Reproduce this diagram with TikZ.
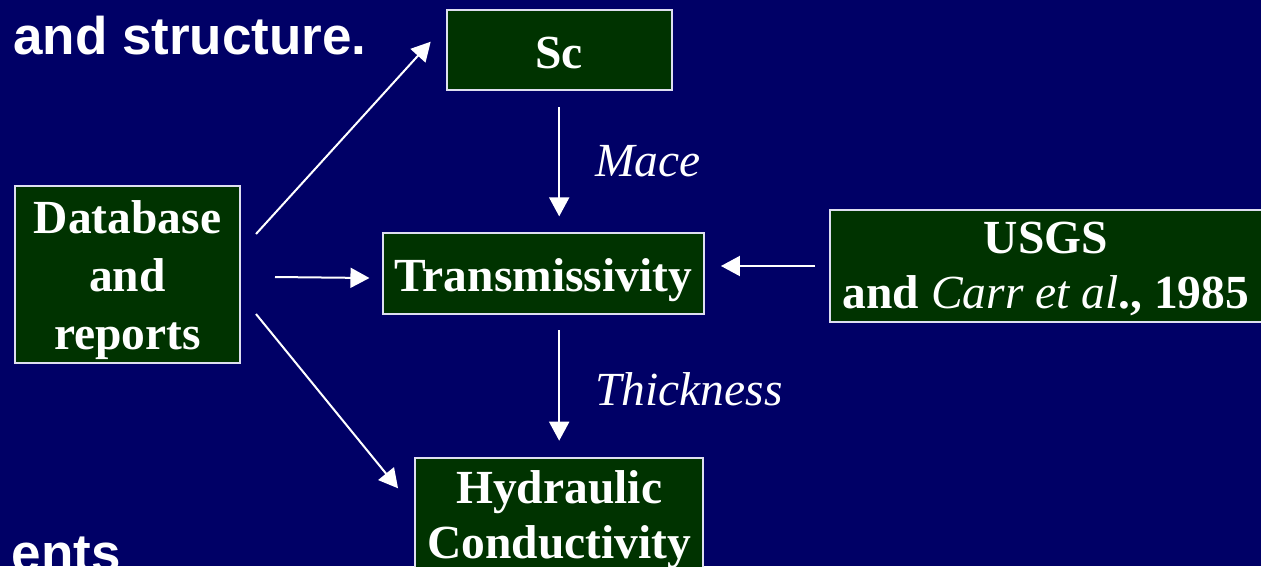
\documentclass[tikz,border=0pt]{standalone}
\usepackage{fontspec}
\setmainfont{Liberation Serif}
\newfontfamily\headfont{Liberation Sans}
\usetikzlibrary{arrows.meta,calc}
\definecolor{bgnavy}{RGB}{0,0,102}
\definecolor{boxfill}{RGB}{0,51,0}
\definecolor{boxline}{RGB}{222,222,240}
\newcommand\mlines[2]{{\fontsize{47.5}{#1}\selectfont\begin{tabular}[t]{@{}c@{}}#2\end{tabular}}}
\begin{document}
\begin{tikzpicture}[x=1pt,y=-1pt,
  box/.style={draw=boxline, line width=2pt, fill=boxfill, inner sep=0pt, text=white,
    font=\fontsize{47.5}{58}\selectfont\bfseries},
  arr/.style={draw=white, line width=2pt, -{Triangle[width=20pt,length=19pt]}},
  lbl/.style={text=white, inner sep=0pt, font=\fontsize{47.5}{56}\selectfont\itshape},
  head/.style={text=white, inner sep=0pt, font=\headfont\fontsize{53}{60}\selectfont\bfseries}]
\fill[bgnavy] (0,0) rectangle (1261,566);
\useasboundingbox (0,0) rectangle (1261,566);

\node[head, anchor=base west] (title) at (13,54) {and structure.};
\node[head, anchor=base east] (ents) at (121,571) {ents};

\node[box, minimum width=225, minimum height=80, text height=40, text depth=4] (sc) at (559.2,50) {Sc};
\node[box, minimum width=321.3, minimum height=80.7, text height=40, text depth=4] (tr) at (543.3,273.7) {Transmissivity};
\node[box, minimum width=225, minimum height=176.7, text height=20, text depth=102] (db) at (127.5,274.3) {\mlines{58}{Database\\and\\reports}};
\node[box, minimum width=432, minimum height=112, text height=30, text depth=55.4] (usgs) at (1046,266) {\mlines{55}{USGS\\and {\mdseries\itshape Carr et al}., 1985}};
\node[box, minimum width=288.3, minimum height=112, text height=30, text depth=51.4] (hy) at (559.2,514) {\mlines{55}{Hydraulic\\Conductivity}};

\draw[arr] ([shift={(15,-40.3)}]db.east) -- ([shift={(-15,-8.3)}]sc.west);
\draw[arr] ([shift={(34,2.7)}]db.east) -- ([shift={(-12.2,4.3)}]tr.west);
\draw[arr] ([shift={(15,39.7)}]db.east) -- ([shift={(-16,31.3)}]hy.north west);
\draw[arr] ($(sc.south)+(0,16)$) -- node[lbl, anchor=west, xshift=35pt] (mace) {Mace} ($(sc.south |- tr.north)+(0,-16)$);
\draw[arr] ($(hy.north |- tr.south)+(0,15.3)$) -- node[lbl, anchor=west, xshift=35pt, yshift=-4pt] (thick) {Thickness} ($(hy.north)+(0,-16.3)$);
\draw[arr] ([shift={(-14,0)}]usgs.west) -- ($(tr.east |- usgs.west)+(16,0)$);
\end{tikzpicture}
\end{document}
